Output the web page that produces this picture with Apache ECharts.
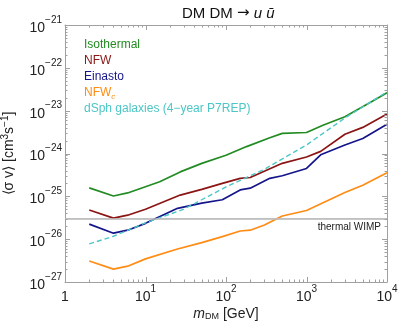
<!DOCTYPE html>
<html>
<head>
<meta charset="utf-8">
<script src="https://cdn.jsdelivr.net/npm/echarts@6/dist/echarts.min.js"></script>
<style>html,body{margin:0;padding:0;background:#fff}#c{width:399px;height:327px}</style>
</head>
<body>
<div id="c"></div>
<script>
// ---- data (σv in cm^3 s^-1, mass in GeV) ----
const isoMass   = [2, 4, 6, 15, 27, 50, 100, 180, 350, 500, 1000, 1600, 3000, 7000, 10000];
const isoSV     = [1.58e-25, 1.02e-25, 1.20e-25, 2.19e-25, 3.72e-25, 5.89e-25, 9.12e-25, 1.45e-24, 2.34e-24, 2.95e-24, 3.09e-24, 4.57e-24, 7.24e-24, 1.78e-23, 2.63e-23];

const nfwMass   = [2, 4, 6, 10, 27, 50, 90, 150, 200, 500, 1000, 1500, 3000, 5000, 10000];
const nfwSV     = [4.79e-26, 3.09e-26, 3.63e-26, 5.01e-26, 1.07e-25, 1.45e-25, 2.00e-25, 2.63e-25, 2.75e-25, 5.89e-25, 8.3e-25, 1.12e-24, 2.82e-24, 4.07e-24, 8.32e-24];

const einMass   = [2, 4, 6, 10, 25, 50, 90, 150, 200, 350, 500, 1000, 1500, 3000, 5000, 10000];
const einSV     = [2.24e-26, 1.38e-26, 1.62e-26, 2.34e-26, 5.25e-26, 6.92e-26, 8.32e-26, 1.41e-25, 1.55e-25, 2.63e-25, 3.02e-25, 4.47e-25, 9.33e-25, 1.58e-24, 2.24e-24, 4.79e-24];

const nfwcMass  = [2, 4, 6, 10, 25, 50, 90, 150, 200, 300, 500, 1000, 1400, 3000, 5000, 10000];
const nfwcSV    = [3.09e-27, 2.0e-27, 2.34e-27, 3.47e-27, 5.89e-27, 8.32e-27, 1.15e-26, 1.55e-26, 1.62e-26, 2.14e-26, 3.47e-26, 4.68e-26, 6.31e-26, 1.23e-25, 1.82e-25, 3.55e-25];

const dsphMass  = [2, 4, 10, 30, 100, 300, 1000, 3000, 10000];
const dsphSV    = [7.76e-27, 1.17e-26, 2.40e-26, 5.01e-26, 1.66e-25, 4.27e-25, 1.58e-24, 6.76e-24, 2.75e-23];

const thermalWIMP = 3e-26;

const seriesNames = ['Isothermal', 'NFW', 'Einasto', 'NFW_c', 'dSph galaxies (4\u2212year P7REP)'];
const seriesColors = ['#238b23', '#8b1515', '#15158b', '#ff8c14', '#4cc6c6'];

const xMin = 1, xMax = 1e4;
const yMin = 1e-27, yMax = 1e-21;
const xMajorTicks = [1, 10, 100, 1000, 10000];
const xTickLabels = ['1', '10^1', '10^2', '10^3', '10^4'];
const yMajorTicks = [1e-27, 1e-26, 1e-25, 1e-24, 1e-23, 1e-22, 1e-21];
const yTickLabels = ['10^-27', '10^-26', '10^-25', '10^-24', '10^-23', '10^-22', '10^-21'];
const xMinorTicks = [2,3,4,5,6,7,8,9, 20,30,40,50,60,70,80,90, 200,300,400,500,600,700,800,900, 2000,3000,4000,5000,6000,7000,8000,9000];
const yMinorTicks = [2e-27,3e-27,4e-27,5e-27,6e-27,7e-27,8e-27,9e-27,
  2e-26,3e-26,4e-26,5e-26,6e-26,7e-26,8e-26,9e-26,
  2e-25,3e-25,4e-25,5e-25,6e-25,7e-25,8e-25,9e-25,
  2e-24,3e-24,4e-24,5e-24,6e-24,7e-24,8e-24,9e-24,
  2e-23,3e-23,4e-23,5e-23,6e-23,7e-23,8e-23,9e-23,
  2e-22,3e-22,4e-22,5e-22,6e-22,7e-22,8e-22,9e-22];

// ---- chart ----
// the y axis is plotted in units of 1e-27 cm^3 s^-1 (avoids float rounding of tiny tick values)
const Y_UNIT = 1e-27;
const yU = v => v / Y_UNIT;
const FONT = '"Liberation Sans", Arial, sans-serif';
const frame = '#a0a0a0';
const supRich = {
  b: {fontSize: 14, lineHeight: 20, verticalAlign: 'bottom', color: '#222', fontFamily: FONT},
  s: {fontSize: 10, lineHeight: 8, verticalAlign: 'top', color: '#222', fontFamily: FONT}
};
const toRich = s => { const p = s.split('^'); return p.length === 1 ? '{b|' + p[0] + '}' : '{b|' + p[0] + '}{s|' + p[1].replace('-', '\u2212') + '}'; };
const nearest = (v, vals, labels) => {
  let best = -1, bd = 0.3;
  vals.forEach((t, i) => { const d = Math.abs(Math.log10(t) - Math.log10(v)); if (d < bd) { bd = d; best = i; } });
  return best < 0 ? '' : labels[best];
};

const chart = echarts.init(document.getElementById('c'), null, {renderer: 'canvas'});

function lineSeries(i, mass, sv, extra) {
  return Object.assign({
    name: seriesNames[i], type: 'line', data: mass.map((m, k) => [m, yU(sv[k])]),
    symbol: 'none', showSymbol: false, z: 3,
    lineStyle: {color: seriesColors[i], width: 1.7},
    itemStyle: {color: seriesColors[i]}
  }, extra || {});
}

function mkX(pos, labels) {
  const a = {
    type: 'log', logBase: 10, min: xMin, max: xMax,
    position: pos,
    axisLine: {show: true, lineStyle: {color: frame, width: 1}},
    axisTick: {show: false},
    splitLine: {show: false},
    axisLabel: {show: false}
  };
  if (labels) {
    a.axisLabel = {
      show: true, margin: 2, hideOverlap: false,
      formatter: v => toRich(nearest(v, xMajorTicks, xTickLabels)),
      rich: supRich
    };
    a.name = '{i|m}{s|DM}{n| [GeV]}';
    a.nameLocation = 'middle';
    a.nameGap = 21;
    a.nameMoveOverlap = false;
    a.nameTextStyle = {rich: {
      i: {fontSize: 14, fontStyle: 'italic', color: '#222', fontFamily: FONT, lineHeight: 18, verticalAlign: 'bottom'},
      s: {fontSize: 9, color: '#222', fontFamily: FONT, lineHeight: 10, verticalAlign: 'bottom'},
      n: {fontSize: 14, color: '#222', fontFamily: FONT, lineHeight: 18, verticalAlign: 'bottom'}
    }};
  }
  return a;
}
function mkY(pos, labels) {
  const a = {
    type: 'log', logBase: 10, min: yU(yMin), max: yU(yMax),
    position: pos,
    axisLine: {show: true, lineStyle: {color: frame, width: 1}},
    axisTick: {show: false},
    splitLine: {show: false},
    axisLabel: {show: false}
  };
  if (labels) {
    a.axisLabel = {
      show: true, margin: 3, hideOverlap: false,
      formatter: v => toRich(nearest(v * Y_UNIT, yMajorTicks, yTickLabels)),
      rich: supRich
    };
    a.name = '\u27E8\u03C3 v\u27E9 [cm{s|3}s{s|\u22121}]';
    a.nameLocation = 'middle';
    a.nameGap = 47;
    a.nameRotate = 90;
    a.nameMoveOverlap = false;
    a.nameTextStyle = {fontSize: 14, color: '#222', fontFamily: FONT, lineHeight: 18,
      rich: {s: {fontSize: 10, color: '#222', fontFamily: FONT, lineHeight: 8, verticalAlign: 'top'}}};
  }
  return a;
}

const option = {
  animation: false,
  backgroundColor: '#fff',
  textStyle: {fontFamily: FONT},
  title: {
    text: '{n|DM DM }{a|\u2192}{i| u \u016B}',
    left: 177, top: 1,
    textStyle: {fontWeight: 'normal', rich: {
      n: {fontSize: 15, color: '#111', fontFamily: FONT, fontWeight: 'normal'},
      a: {fontSize: 15, color: '#111', fontFamily: '"DejaVu Sans"', fontWeight: 'normal'},
      i: {fontSize: 15, color: '#111', fontStyle: 'italic', fontFamily: FONT, fontWeight: 'normal'}
    }}
  },
  legend: {
    orient: 'vertical', left: 74, top: 32,
    itemWidth: 0, itemHeight: 0, itemGap: 0,
    selectedMode: false,
    data: seriesNames.map((n, i) => ({name: n, icon: 'rect', textStyle: {color: seriesColors[i]}})),
    textStyle: {fontSize: 12, lineHeight: 16, fontFamily: FONT,
      rich: {
        a: {fontSize: 12, color: seriesColors[3], fontFamily: FONT},
        c: {fontSize: 8, color: seriesColors[3], fontStyle: 'italic', verticalAlign: 'bottom', lineHeight: 12, fontFamily: FONT}
      }},
    formatter: n => n === 'NFW_c' ? '{a|NFW}{c|c}' : n
  },
  grid: {left: 65, right: 12, top: 25, bottom: 45, containLabel: false, outerBoundsMode: 'none'},
  xAxis: [mkX('bottom', true), mkX('top', false)],
  yAxis: [mkY('left', true), mkY('right', false)],
  series: [
    {
      name: 'thermal WIMP', type: 'line', z: 1, symbol: 'none', showSymbol: false,
      data: [[xMin, yU(thermalWIMP)], [xMax, yU(thermalWIMP)]],
      lineStyle: {color: '#c0c0c0', width: 1.6},
      itemStyle: {color: '#c0c0c0'},
      markLine: {
        silent: true, symbol: 'none', animation: false,
        data: [{yAxis: yU(thermalWIMP)}],
        lineStyle: {color: '#c0c0c0', width: 1.6, type: 'solid'},
        label: {show: true, position: 'insideEndBottom', formatter: 'thermal WIMP', color: '#222', fontSize: 10, fontFamily: FONT, distance: [6, 4]}
      }
    },
    lineSeries(0, isoMass, isoSV),
    lineSeries(1, nfwMass, nfwSV),
    lineSeries(2, einMass, einSV),
    lineSeries(3, nfwcMass, nfwcSV),
    lineSeries(4, dsphMass, dsphSV, {lineStyle: {color: seriesColors[4], width: 1.4, type: [5, 3]}})
  ]
};
chart.setOption(option);

// ---- frame ticks (inward, on all four sides), positioned through the chart's own scales ----
const toPx = (x, y) => chart.convertToPixel({gridIndex: 0}, [x, y]);
const lt = toPx(xMin, yU(yMax));
const rb = toPx(xMax, yU(yMin));
const tickEls = [];
const st = {stroke: frame, lineWidth: 1};
function addX(v, len) {
  const x = Math.round(toPx(v, yU(yMin))[0]) + 0.5;
  tickEls.push({type: 'line', silent: true, z: 50, shape: {x1: x, y1: rb[1], x2: x, y2: rb[1] - len}, style: st});
  tickEls.push({type: 'line', silent: true, z: 50, shape: {x1: x, y1: lt[1], x2: x, y2: lt[1] + len}, style: st});
}
function addY(v, len) {
  const y = Math.round(toPx(xMin, yU(v))[1]) + 0.5;
  tickEls.push({type: 'line', silent: true, z: 50, shape: {x1: lt[0], y1: y, x2: lt[0] + len, y2: y}, style: st});
  tickEls.push({type: 'line', silent: true, z: 50, shape: {x1: rb[0], y1: y, x2: rb[0] - len, y2: y}, style: st});
}
xMajorTicks.forEach(v => addX(v, 5));
xMinorTicks.forEach(v => addX(v, 2.5));
yMajorTicks.forEach(v => addY(v, 5));
yMinorTicks.forEach(v => addY(v, 2.5));
chart.setOption({graphic: {elements: tickEls}});
</script>
</body>
</html>
